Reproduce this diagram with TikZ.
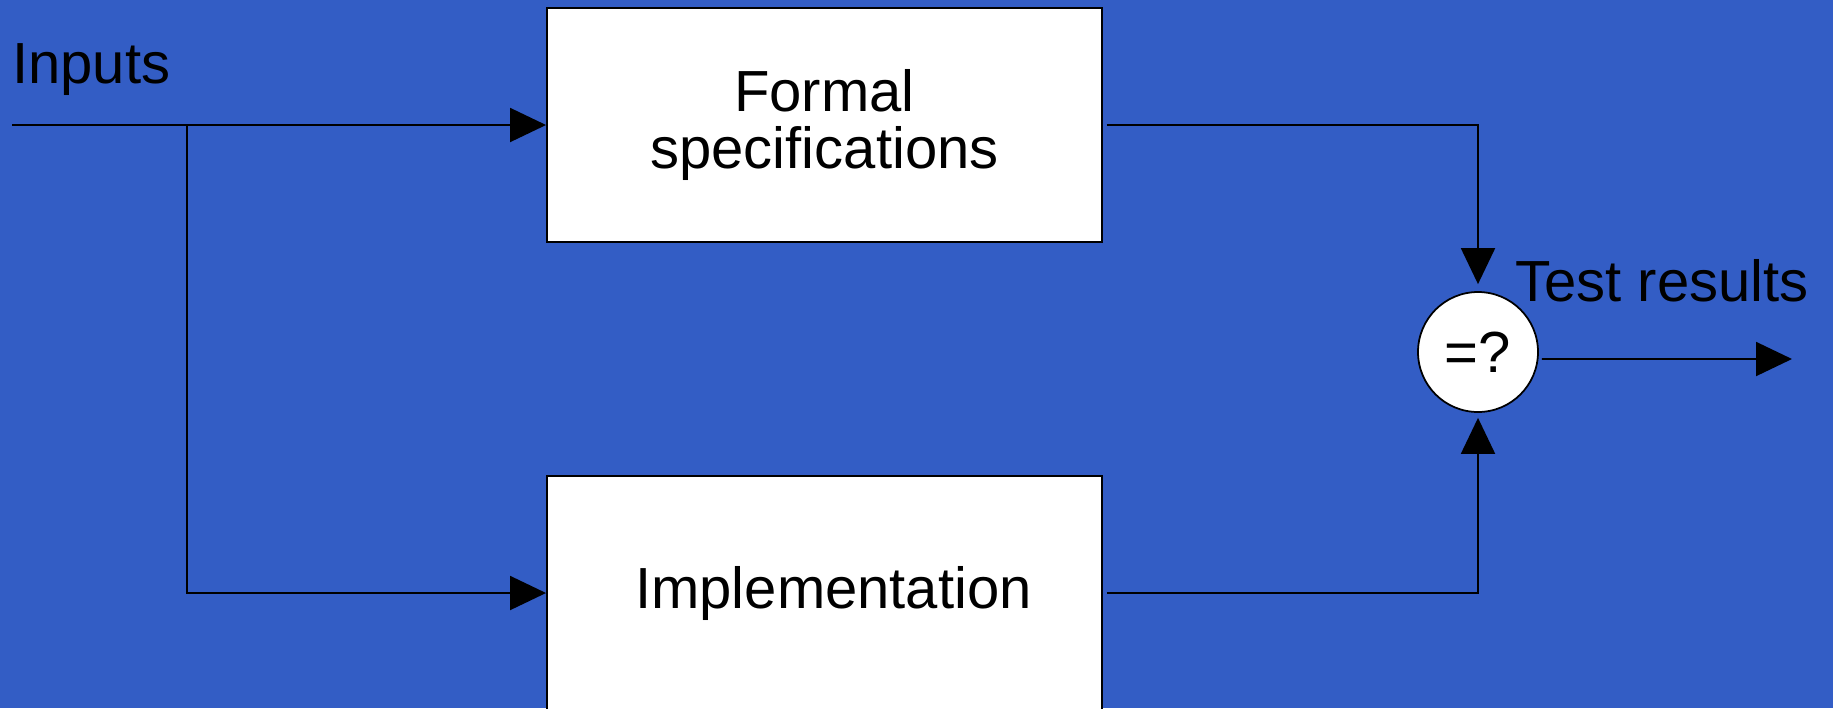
\documentclass[tikz,border=0pt]{standalone}
\usepackage{fontspec}
\setmainfont{Liberation Sans}
\usetikzlibrary{arrows.meta,calc,positioning}
\definecolor{slide}{HTML}{335DC5}

\begin{document}
\begin{tikzpicture}[line join=miter,font=\fontsize{33}{33}\selectfont,
    block/.style={draw=black,fill=white,line width=1.1pt,minimum width=11.1cm,
      minimum height=4.68cm,inner sep=0pt,align=center},
    sig/.style={draw=black,line width=1.1pt},
    tip/.style={-{Triangle[length=7.2mm,width=6.8mm]}}]
  \fill[slide] (0,0) rectangle (36.66,-14.16);
  \useasboundingbox (0,0) rectangle (36.66,-14.16);

  % Specification and implementation run on the same inputs.
  \node[block] (spec) at (16.49,-2.5) {Formal\\specifications};
  \node[block] (impl) at (16.49,-11.86) {\hspace*{0.36cm}Implementation};
  \node[draw=black,fill=white,circle,line width=1pt,minimum size=2.4cm,inner sep=0pt]
    (cmp) at (29.56,-7.04) {=?};

  \node[anchor=base west,inner sep=0pt] (inlabel) at (0.24,-1.66) {Inputs};
  \coordinate (in) at (0.24,-2.5);
  \coordinate (fork) at (3.74,-2.5);
  \draw[sig,tip] (in) -- (spec.west);
  \draw[sig,tip] (fork) |- (impl.west);

  % Outputs compared.
  \draw[sig,tip,shorten <=0.08cm,shorten >=0.14cm] (spec.east) -| (cmp.north);
  \draw[sig,tip,shorten <=0.08cm,shorten >=0.1cm] (impl.east) -| (cmp.south);
  \coordinate (res) at (35.84,-7.18);
  \draw[sig,tip] ([shift={(0.06,-0.14)}]cmp.east) -- (res);

  \begin{scope}
    \clip (30,-4) rectangle (36.22,-7);
    \node[anchor=base west,inner sep=0pt] (reslabel) at (30.3,-6.02) {Test results};
  \end{scope}
\end{tikzpicture}
\end{document}
